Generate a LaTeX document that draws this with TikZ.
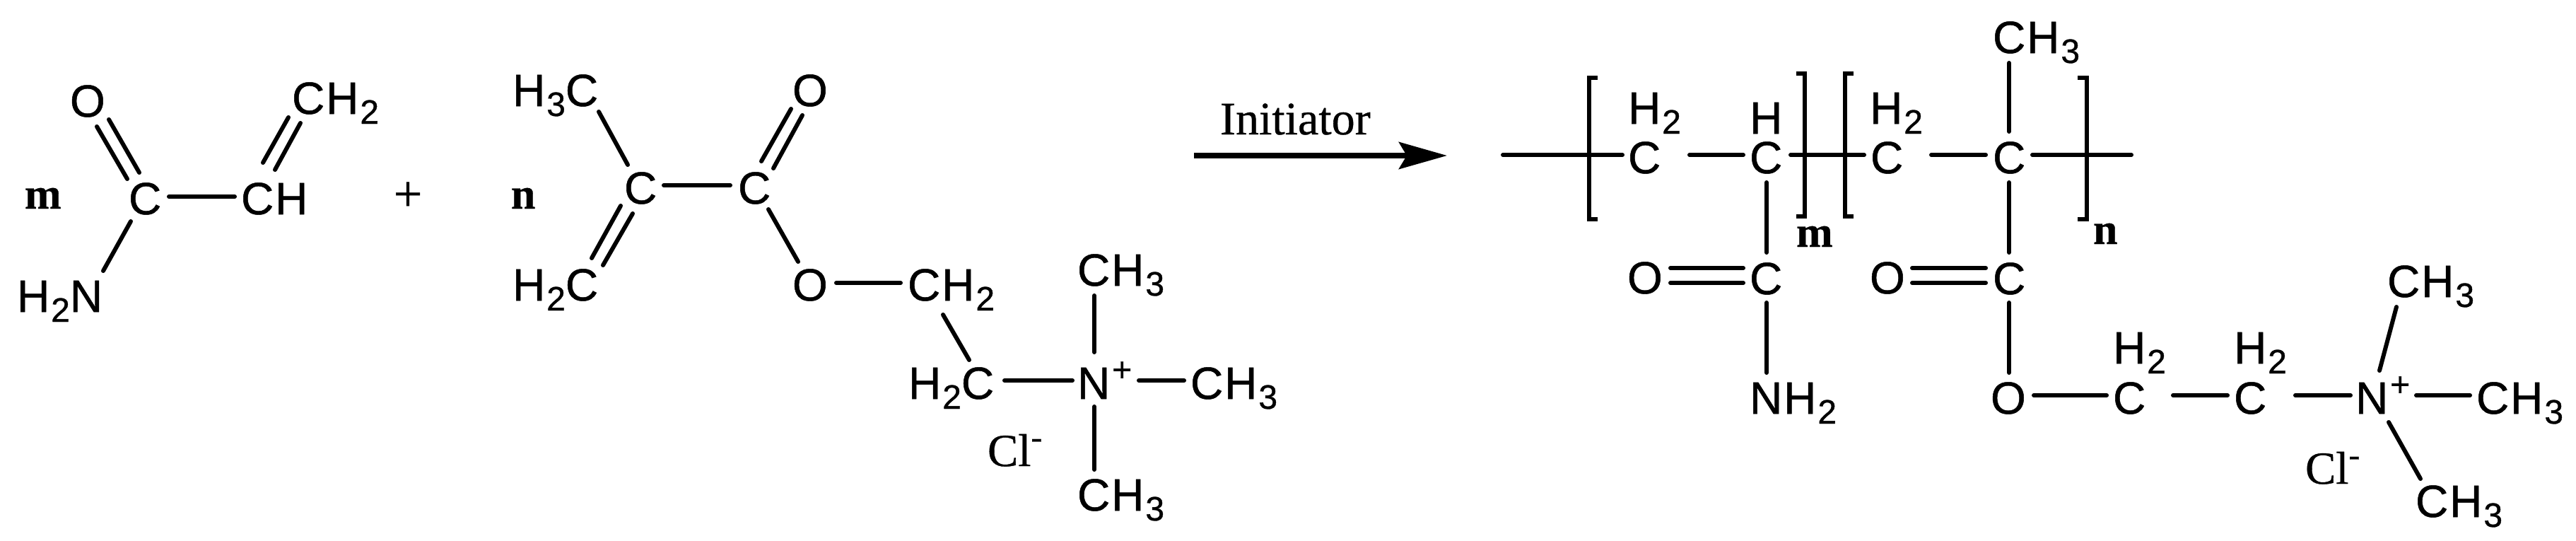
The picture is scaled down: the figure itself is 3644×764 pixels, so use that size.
\documentclass[tikz,border=0pt]{standalone}
\usepackage{fontspec}
\setmainfont[FakeBold=0.6]{Liberation Serif}
\newfontfamily\arialf[FakeBold=0.8,LetterSpace=3]{Liberation Sans}
\usetikzlibrary{arrows.meta}
\newcommand\sbs[1]{\kern2pt\raisebox{-14pt}{\fontsize{48}{50}\selectfont #1}}
\newcommand\spl{\kern3pt\raisebox{25pt}{\fontsize{48}{50}\selectfont +}}
\newcommand\smn{\raisebox{25pt}{\fontsize{48}{50}\selectfont -}}
\newcommand\bd[6]{\draw[bond] ([shift={(#2,#3)}]#1.base west) -- ([shift={(#5,#6)}]#4.base west);}
\tikzset{
  atom/.style={anchor=base west,inner sep=0pt,outer sep=0pt,font=\arialf\fontsize{64}{70}\selectfont},
  serifl/.style={anchor=base west,inner sep=0pt,outer sep=0pt,font=\fontsize{65}{70}\selectfont},
  boldl/.style={anchor=base west,inner sep=0pt,outer sep=0pt,font=\bfseries\fontsize{62}{70}\selectfont},
  bond/.style={line width=6pt,line cap=round},
  brk/.style={line width=6pt,line cap=butt,line join=miter},
  rxn/.style={line width=7.5pt,-{Stealth[length=68pt,width=38pt,inset=11pt]}}
}
\begin{document}
\begin{tikzpicture}[x=1pt,y=-1pt]
\useasboundingbox (0,0) rectangle (3644,764);
% monomer 1
\node[boldl] (m1) at (35,295) {m};
\node[atom] (C1) at (182,303) {C};
\node[atom] (O1) at (99,165) {O};
\node[atom] (CH) at (341,303) {CH};
\node[atom] (CHb) at (413,161) {CH\sbs{2}};
\node[atom] (HN) at (24,441) {H\sbs{2}N};
\bd{O1}{38}{14}{C1}{-2}{-50}
\bd{O1}{55}{4}{C1}{15}{-59}
\bd{C1}{57}{-25}{CH}{-9}{-25}
\bd{C1}{3}{10}{HN}{122}{-58}
\bd{CHb}{-5}{5}{CH}{31}{-73}
\bd{CHb}{12}{13}{CH}{48}{-63}
\node[serifl,anchor=center,font=\fontsize{72}{74}\selectfont] (plus) at (577,278) {+};
% monomer 2
\node[boldl] (n1) at (723,295) {n};
\node[atom] (HC) at (725,150) {H\sbs{3}C};
\node[atom] (C2) at (883,288) {C};
\node[atom] (HCb) at (725,425) {H\sbs{2}C};
\node[atom] (Ot) at (1121,150) {O};
\node[atom] (C3) at (1044,288) {C};
\node[atom] (O2) at (1121,425) {O};
\node[atom] (CHc) at (1284,425) {CH\sbs{2}};
\node[atom] (HCc) at (1285,564) {H\sbs{2}C};
\node[atom] (Np) at (1524,564) {N\spl};
\node[atom] (Mt) at (1524,404) {CH\sbs{3}};
\node[atom] (Mr) at (1684,564) {CH\sbs{3}};
\node[atom] (Mb) at (1524,722) {CH\sbs{3}};
\node[serifl] (Cla) at (1397,659) {Cl\smn};
\bd{HC}{122}{8}{C2}{5}{-55}
\bd{C2}{-5}{3}{HCb}{112}{-60}
\bd{C2}{12}{14}{HCb}{128}{-50}
\bd{C2}{56}{-26}{C3}{-11}{-26}
\bd{Ot}{-2}{4}{C3}{33}{-60}
\bd{Ot}{14}{13}{C3}{50}{-50}
\bd{C3}{43}{8}{O2}{8}{-55}
\bd{O2}{62}{-25}{CHc}{-10}{-25}
\bd{CHc}{50}{20}{HCc}{86}{-55}
\bd{HCc}{136}{-26}{Np}{-7}{-26}
\bd{Np}{24}{-66}{Mt}{24}{14}
\bd{Np}{87}{-26}{Mr}{-9}{-26}
\bd{Np}{24}{11}{Mb}{24}{-58}
% reaction arrow
\node[serifl,font=\fontsize{66}{70}\selectfont] (init) at (1726,190) {Initiator};
\coordinate (arS) at (1689,220);
\coordinate (arE) at (2047,220);
\draw[rxn] (arS) -- (arE);
% polymer
\coordinate (lEnd) at (2126,219);
\coordinate (rEnd) at (3015,219);
\node[atom] (C4) at (2303,245) {C};
\node[atom] (Ha) at (2303,175) {H\sbs{2}};
\node[atom] (C5) at (2475,245) {C};
\node[atom] (Hb) at (2475,189) {H};
\node[atom] (C6) at (2646,245) {C};
\node[atom] (Hc) at (2645,175) {H\sbs{2}};
\node[atom] (C7) at (2819,245) {C};
\node[atom] (C8) at (2475,416) {C};
\node[atom] (O3) at (2302,415) {O};
\node[atom] (NH) at (2475,585) {NH\sbs{2}};
\node[boldl] (m2) at (2541,349) {m};
\node[atom] (C9) at (2819,416) {C};
\node[atom] (O4) at (2645,415) {O};
\node[atom] (O5) at (2816,585) {O};
\node[atom] (Mc) at (2819,75) {CH\sbs{3}};
\node[boldl] (n2) at (2961,345) {n};
\node[atom] (C10) at (2989,585) {C};
\node[atom] (Hd) at (2989,514) {H\sbs{2}};
\node[atom] (C11) at (3160,585) {C};
\node[atom] (He) at (3160,514) {H\sbs{2}};
\node[atom] (Nq) at (3332,585) {N\spl};
\node[atom] (Md) at (3377,420) {CH\sbs{3}};
\node[atom] (Me) at (3503,585) {CH\sbs{3}};
\node[atom] (Mf) at (3417,731) {CH\sbs{3}};
\node[serifl] (Clb) at (3261,684) {Cl\smn};
\draw[bond] (lEnd) -- ([shift={(-8,-26)}]C4.base west);
\bd{C4}{87}{-26}{C5}{-9}{-26}
\bd{C5}{58}{-26}{C6}{-9}{-26}
\bd{C6}{86}{-26}{C7}{-10}{-26}
\draw[bond] ([shift={(56,-26)}]C7.base west) -- (rEnd);
\bd{C5}{24}{13}{C8}{24}{-59}
\bd{C8}{24}{12}{NH}{24}{-58}
\bd{O3}{61}{-36}{C8}{-9}{-37}
\bd{O3}{61}{-15}{C8}{-9}{-16}
\bd{C7}{23}{-59}{Mc}{23}{14}
\bd{C7}{23}{13}{C9}{23}{-59}
\bd{C9}{23}{12}{O5}{26}{-58}
\bd{O4}{60}{-36}{C9}{-10}{-37}
\bd{O4}{60}{-15}{C9}{-10}{-16}
\bd{O5}{61}{-26}{C10}{-9}{-26}
\bd{C10}{85}{-26}{C11}{-9}{-26}
\bd{C11}{87}{-26}{Nq}{-7}{-26}
\bd{Nq}{86}{-26}{Me}{-9}{-26}
\bd{Nq}{34}{-61}{Md}{13}{14}
\bd{Nq}{47}{12}{Mf}{7}{-54}
% brackets
\draw[brk] (2260,110) -- (2248,110) -- (2248,310) -- (2260,310);
\draw[brk] (2541,104) -- (2553,104) -- (2553,306) -- (2541,306);
\draw[brk] (2622,104) -- (2610,104) -- (2610,306) -- (2622,306);
\draw[brk] (2939,110) -- (2952,110) -- (2952,310) -- (2939,310);
\end{tikzpicture}
\end{document}
